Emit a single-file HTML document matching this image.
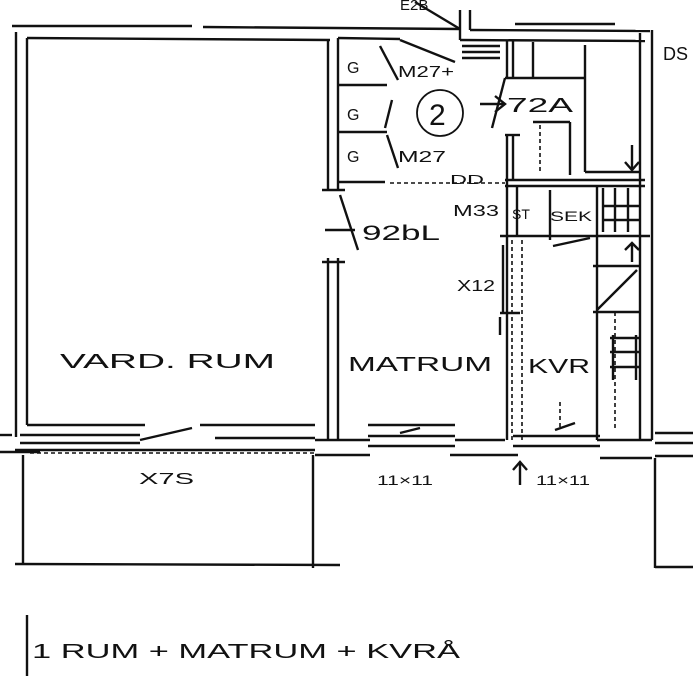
<!DOCTYPE html>
<html><head><meta charset="utf-8"><style>
html,body{margin:0;padding:0;background:#fff;}
svg{display:block;}
text{font-family:"Liberation Sans",sans-serif;fill:#111;}
</style></head><body>
<svg width="693" height="683" viewBox="0 0 693 683" xmlns="http://www.w3.org/2000/svg">
<g stroke="#111" stroke-width="2.4" fill="none">
<line x1="12" y1="26" x2="192" y2="26"/><line x1="203" y1="27" x2="335" y2="28"/>
<line x1="27" y1="38" x2="330" y2="40"/>
<line x1="335" y1="28" x2="460" y2="29"/>
<line x1="338" y1="38" x2="400" y2="39"/>
<line x1="16" y1="32" x2="16" y2="437"/><line x1="27" y1="38" x2="27" y2="425"/>
<line x1="328" y1="40" x2="328" y2="190"/><line x1="338" y1="38" x2="338" y2="190"/>
<line x1="322" y1="190" x2="345" y2="190"/>
<line x1="328" y1="258" x2="328" y2="440"/><line x1="338" y1="258" x2="338" y2="440"/>
<line x1="322" y1="262" x2="345" y2="262"/>
<line x1="338" y1="85" x2="387" y2="85"/><line x1="338" y1="132" x2="387" y2="132"/>
<line x1="338" y1="182" x2="385" y2="182"/>
<line x1="380" y1="46" x2="398" y2="80"/><line x1="392" y1="100" x2="385" y2="128"/><line x1="387" y1="135" x2="398" y2="168"/>
<line x1="400" y1="40" x2="455" y2="62"/>
<line x1="415" y1="2" x2="460" y2="29"/>
<line x1="460" y1="10" x2="460" y2="40"/><line x1="470" y1="10" x2="470" y2="30"/>
<line x1="470" y1="30" x2="650" y2="31"/>
<line x1="460" y1="40" x2="645" y2="41"/>
<line x1="515" y1="24" x2="615" y2="24"/>
<line x1="462" y1="46" x2="500" y2="46"/><line x1="462" y1="52" x2="500" y2="52"/><line x1="462" y1="58" x2="500" y2="58"/>
<line x1="507" y1="40" x2="507" y2="78"/><line x1="513" y1="40" x2="513" y2="78"/>
<line x1="505" y1="78" x2="585" y2="78"/>
<line x1="533" y1="42" x2="533" y2="78"/>
<line x1="585" y1="45" x2="585" y2="172"/><line x1="585" y1="172" x2="640" y2="172"/>
<line x1="505" y1="78" x2="492" y2="128"/>
<line x1="507" y1="135" x2="507" y2="440"/><line x1="513" y1="135" x2="513" y2="180"/>
<line x1="505" y1="135" x2="520" y2="135"/>
<line x1="640" y1="33" x2="640" y2="440"/><line x1="652" y1="30" x2="652" y2="440"/>
<line x1="533" y1="122" x2="570" y2="122"/><line x1="570" y1="122" x2="570" y2="175"/>
<line x1="505" y1="180" x2="645" y2="180"/><line x1="505" y1="186" x2="645" y2="186"/>
<line x1="517" y1="186" x2="517" y2="236"/><line x1="550" y1="190" x2="550" y2="240"/>
<line x1="597" y1="186" x2="597" y2="440"/>
<line x1="500" y1="236" x2="650" y2="236"/>
<line x1="553" y1="246" x2="590" y2="238"/>
<line x1="503" y1="245" x2="503" y2="313"/><line x1="500" y1="313" x2="520" y2="313"/>
<line x1="603" y1="188" x2="603" y2="232"/><line x1="603" y1="206" x2="640" y2="206"/><line x1="603" y1="220" x2="640" y2="220"/>
<line x1="615" y1="188" x2="615" y2="232"/><line x1="628" y1="188" x2="628" y2="232"/>
<line x1="593" y1="266" x2="640" y2="266"/><line x1="593" y1="312" x2="640" y2="312"/>
<line x1="597" y1="310" x2="637" y2="270"/>
<line x1="613" y1="335" x2="613" y2="380"/><line x1="636" y1="335" x2="636" y2="380"/>
<line x1="610" y1="338" x2="640" y2="338"/><line x1="610" y1="352" x2="640" y2="352"/><line x1="610" y1="367" x2="640" y2="367"/>
<line x1="0" y1="435" x2="12" y2="435"/>
<line x1="27" y1="425" x2="145" y2="425"/><line x1="200" y1="425" x2="315" y2="425"/>
<line x1="20" y1="435" x2="140" y2="435"/><line x1="215" y1="438" x2="315" y2="438"/>
<line x1="20" y1="443" x2="140" y2="443"/><line x1="140" y1="440" x2="192" y2="428"/>
<line x1="0" y1="452" x2="40" y2="452"/>
<line x1="15" y1="450" x2="315" y2="450"/>
<line x1="315" y1="440" x2="370" y2="440"/>
<line x1="368" y1="425" x2="455" y2="425"/><line x1="368" y1="436" x2="455" y2="436"/><line x1="368" y1="446" x2="455" y2="446"/>
<line x1="455" y1="440" x2="505" y2="440"/>
<line x1="315" y1="455" x2="370" y2="455"/><line x1="450" y1="455" x2="518" y2="455"/>
<line x1="513" y1="436" x2="600" y2="436"/><line x1="513" y1="446" x2="600" y2="446"/>
<line x1="600" y1="458" x2="652" y2="458"/>
<line x1="597" y1="440" x2="652" y2="440"/>
<line x1="655" y1="433" x2="693" y2="433"/><line x1="655" y1="443" x2="693" y2="443"/><line x1="655" y1="456" x2="693" y2="456"/>
<line x1="400" y1="433" x2="420" y2="428"/><line x1="555" y1="430" x2="575" y2="423"/>
<line x1="23" y1="455" x2="23" y2="565"/><line x1="313" y1="455" x2="313" y2="568"/>
<line x1="15" y1="564" x2="340" y2="565"/>
<line x1="655" y1="458" x2="655" y2="568"/><line x1="655" y1="567" x2="693" y2="567"/>
<line x1="480" y1="104" x2="505" y2="104"/><polyline points="495,96 505,104 495,112"/>
<line x1="325" y1="230" x2="355" y2="230"/><line x1="340" y1="195" x2="358" y2="250"/>
<line x1="520" y1="485" x2="520" y2="462"/><polyline points="513,470 520,462 527,470"/>
<line x1="500" y1="317" x2="500" y2="335"/>
<line x1="632" y1="145" x2="632" y2="170"/><polyline points="625,162 632,170 639,162"/>
<line x1="632" y1="243" x2="632" y2="262"/><polyline points="625,250 632,243 639,250"/>
<line x1="27" y1="615" x2="27" y2="676"/>
<circle cx="440" cy="113" r="23" stroke-width="1.8"/>
</g>
<g stroke="#111" stroke-width="1.6" stroke-dasharray="4,3" fill="none">
<line x1="390" y1="183" x2="505" y2="183"/>
<line x1="512" y1="240" x2="512" y2="440"/><line x1="522" y1="240" x2="522" y2="440"/>
<line x1="540" y1="125" x2="540" y2="172"/><line x1="615" y1="312" x2="615" y2="430"/>
<line x1="560" y1="402" x2="560" y2="430"/>
<line x1="30" y1="453" x2="315" y2="453"/>
</g>
<g font-size="20">
<text x="60" y="368" textLength="215" lengthAdjust="spacingAndGlyphs">VARD. RUM</text>
<text x="348" y="371" textLength="144" lengthAdjust="spacingAndGlyphs">MATRUM</text>
<text x="528" y="373" textLength="62" lengthAdjust="spacingAndGlyphs">KVR</text>
</g>
<g font-size="16">
<text x="139" y="484" textLength="55" lengthAdjust="spacingAndGlyphs">X7S</text>
<text x="377" y="485" font-size="14" textLength="56" lengthAdjust="spacingAndGlyphs">11×11</text>
<text x="536" y="485" font-size="14" textLength="54" lengthAdjust="spacingAndGlyphs">11×11</text>
<text x="347" y="73">G</text><text x="347" y="120">G</text><text x="347" y="162">G</text>
<text x="398" y="77" textLength="56" lengthAdjust="spacingAndGlyphs">M27+</text>
<text x="398" y="162" textLength="48" lengthAdjust="spacingAndGlyphs">M27</text>
<text x="429" y="125" font-size="30">2</text>
<text x="507" y="112" font-size="20" textLength="66" lengthAdjust="spacingAndGlyphs">72A</text>
<text x="362" y="240" font-size="21" textLength="78" lengthAdjust="spacingAndGlyphs">92bL</text>
<text x="453" y="216" textLength="46" lengthAdjust="spacingAndGlyphs">M33</text>
<text x="512" y="219" font-size="14">ST</text>
<text x="550" y="221" font-size="14" textLength="42" lengthAdjust="spacingAndGlyphs">SEK</text>
<text x="457" y="291" textLength="38" lengthAdjust="spacingAndGlyphs">X12</text>
<text x="450" y="184" font-size="13" textLength="34" lengthAdjust="spacingAndGlyphs">DD</text>
<text x="663" y="60" font-size="18">DS</text>
<text x="400" y="10" font-size="15">E2B</text>
<text x="32" y="658" font-size="20" textLength="428" lengthAdjust="spacingAndGlyphs">1 RUM + MATRUM + KVRÅ</text>
</g>
</svg>
</body></html>
